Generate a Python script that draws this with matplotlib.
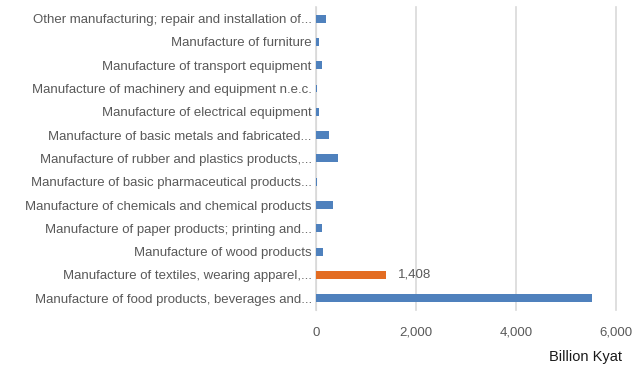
import matplotlib.pyplot as plt

plt.rcParams['font.family'] = ['Liberation Sans', 'DejaVu Sans']

# Data (bottom to top)
categories = [
    'Manufacture of food products, beverages and...',
    'Manufacture of textiles, wearing apparel,...',
    'Manufacture of wood products',
    'Manufacture of paper products; printing and...',
    'Manufacture of chemicals and chemical products',
    'Manufacture of basic pharmaceutical products...',
    'Manufacture of rubber and plastics products,...',
    'Manufacture of basic metals and fabricated...',
    'Manufacture of electrical equipment',
    'Manufacture of machinery and equipment n.e.c.',
    'Manufacture of transport equipment',
    'Manufacture of furniture',
    'Other manufacturing; repair and installation of...',
]
values = [5520, 1408, 130, 110, 330, 25, 440, 260, 65, 10, 110, 65, 200]
highlight = 'Manufacture of textiles, wearing apparel,...'

blue = '#4f81bd'
orange = '#e36c22'
grey = '#595959'

fig = plt.figure(figsize=(6.32, 3.68), dpi=100)
ax = fig.add_axes([0.5, 0.158, 0.475, 0.823])

colors = [orange if c == highlight else blue for c in categories]
y = range(len(categories))
ax.barh(y, values, height=0.34, color=colors, zorder=3)

# data label on highlighted bar
for i, (c, v) in enumerate(zip(categories, values)):
    if c == highlight:
        ax.text(v + 220, i, f'{v:,}', va='center', ha='left', fontsize=9.5, color=grey)

ax.set_ylim(-0.5, len(categories) - 0.5)
ax.set_xlim(0, 6000)
ax.set_xticks([0, 2000, 4000, 6000])
ax.set_xticklabels(['0', '2,000', '4,000', '6,000'])
ax.set_yticks(list(y))
ax.set_yticklabels(categories)
ax.tick_params(axis='both', length=0, labelsize=9.5, labelcolor=grey)
ax.tick_params(axis='x', pad=12)
ax.tick_params(axis='y', pad=3)

ax.grid(axis='x', color='#d9d9d9', linewidth=1.2, zorder=0)
for gl in ax.get_xgridlines():
    gl.set_clip_on(False)
for s in ['top', 'right', 'bottom']:
    ax.spines[s].set_visible(False)
ax.spines['left'].set_color('#d9d9d9')

fig.text(0.984, 0.03, 'Billion Kyat', ha='right', va='center', fontsize=10.5, color='#1a1a1a')

plt.savefig('out.png', dpi=100)
